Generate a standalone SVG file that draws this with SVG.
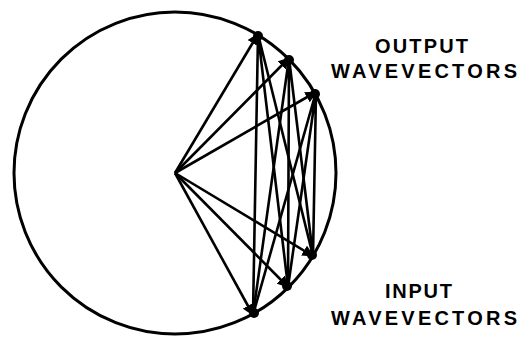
<svg xmlns="http://www.w3.org/2000/svg" width="522" height="338" viewBox="0 0 522 338">
<style>
.ln{stroke:#000;stroke-width:2.6;fill:none;stroke-linecap:round}
.fan{stroke:#000;stroke-width:2.6;fill:none;marker-end:url(#ah)}
.lbl{font-family:"Liberation Sans",Arial,sans-serif;font-weight:bold;font-size:20px;fill:#000}
</style>
<defs>
<marker id="ah" viewBox="0 0 10 10" refX="9" refY="5" markerWidth="4.5" markerHeight="4.5" orient="auto" markerUnits="strokeWidth">
<path d="M0,0 L10,5 L0,10 z" fill="#000"/>
</marker>
</defs>
<rect width="522" height="338" fill="#fff"/>
<g id="sphere">
<circle cx="175" cy="173" r="161" fill="none" stroke="#000" stroke-width="3"/>
</g>
<g id="connectors">
<path class="fan" d="M175,173 L258,34"/>
<path class="fan" d="M175,173 L289,58"/>
<path class="fan" d="M175,173 L316,92"/>
<path class="fan" d="M175,173 L313,256"/>
<path class="fan" d="M175,173 L288,287"/>
<path class="fan" d="M175,173 L253,315"/>
<path class="ln" d="M258,34 L253,315 M258,34 L288,287 M258,34 L313,256"/>
<path class="ln" d="M289,58 L253,315 M289,58 L288,287 M289,58 L313,256"/>
<path class="ln" d="M316,92 L253,315 M316,92 L288,287 M316,92 L313,256"/>
</g>
<g id="points" fill="#000">
<circle cx="258" cy="36" r="5"/>
<circle cx="289" cy="60" r="5"/>
<circle cx="315" cy="94" r="5"/>
<circle cx="312" cy="255" r="5"/>
<circle cx="287" cy="286" r="5"/>
<circle cx="254" cy="313" r="5"/>
</g>
<g id="output-label">
<text class="lbl" x="375" y="53" textLength="93" lengthAdjust="spacing">OUTPUT</text>
<text class="lbl" x="331" y="78" textLength="186" lengthAdjust="spacing">WAVEVECTORS</text>
</g>
<g id="input-label">
<text class="lbl" x="385" y="298" textLength="67" lengthAdjust="spacing">INPUT</text>
<text class="lbl" x="331" y="325" textLength="186" lengthAdjust="spacing">WAVEVECTORS</text>
</g>
</svg>
